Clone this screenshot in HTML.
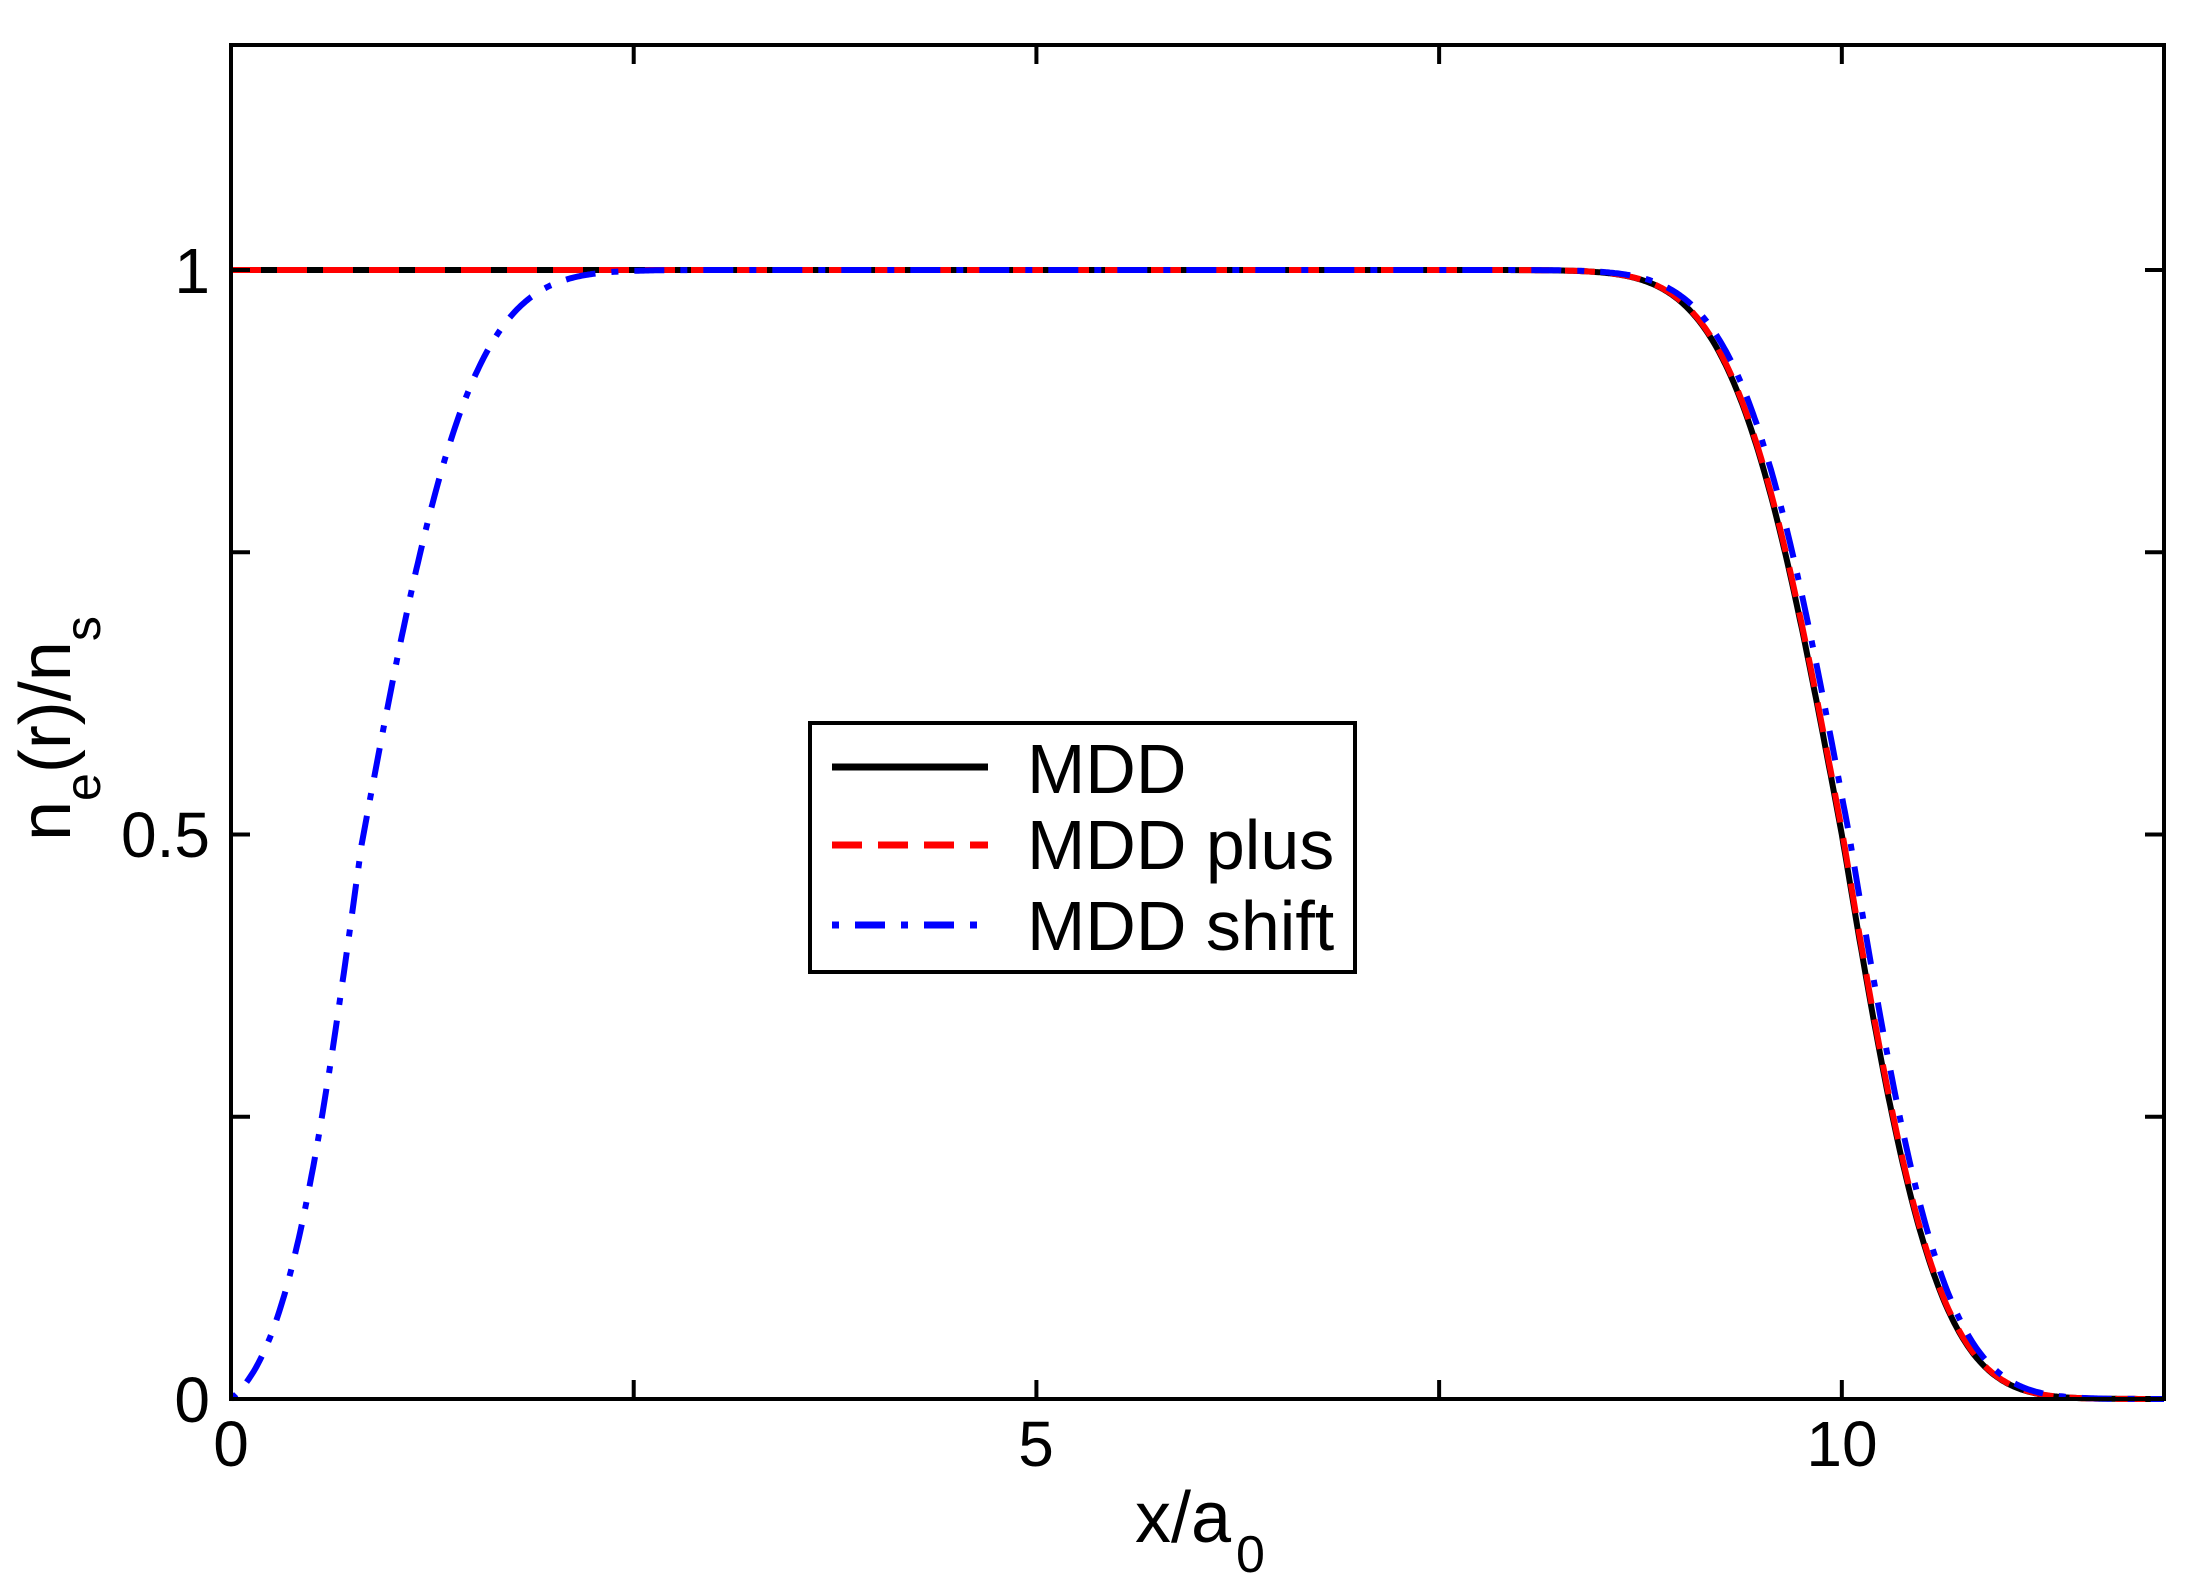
<!DOCTYPE html>
<html><head><meta charset="utf-8"><style>
html,body{margin:0;padding:0;background:#fff;}
svg{display:block;font-family:"Liberation Sans",Arial,sans-serif;}
</style></head><body>
<svg id="s" width="2187" height="1589" viewBox="0 0 2187 1589" xmlns="http://www.w3.org/2000/svg">
<rect width="2187" height="1589" fill="#fff"/>
<g id="curves" fill="none" stroke-width="6" stroke-linejoin="round"></g>
<rect x="231" y="45" width="1933" height="1354" fill="none" stroke="#000" stroke-width="4"/>
<g stroke="#000" stroke-width="4" id="ticks"></g>
<g font-size="64" fill="#000">
<text x="210" y="293" text-anchor="end">1</text>
<text x="210" y="857" text-anchor="end">0.5</text>
<text x="210" y="1422" text-anchor="end">0</text>
<text x="231" y="1466" text-anchor="middle">0</text>
<text x="1036" y="1466" text-anchor="middle">5</text>
<text x="1842" y="1466" text-anchor="middle">10</text>
</g>
<text x="1135" y="1542" font-size="72">x/a</text>
<text x="1236" y="1572" font-size="52">0</text>
<text transform="translate(70,841) rotate(-90)" font-size="72">n<tspan font-size="50" dy="30">e</tspan><tspan dy="-30">(r)/n</tspan><tspan font-size="50" dy="30">s</tspan></text>
<rect x="810" y="723" width="545" height="249" fill="#fff" stroke="#000" stroke-width="4"/>
<line x1="832" y1="767" x2="988" y2="767" stroke="#000" stroke-width="7"/>
<line x1="832" y1="845" x2="988" y2="845" stroke="#f00" stroke-width="7" stroke-dasharray="30,16"/>
<line x1="832" y1="925" x2="988" y2="925" stroke="#00f" stroke-width="7" stroke-dasharray="7,16,30,16"/>
<g font-size="70">
<text x="1027" y="793">MDD</text>
<text x="1027" y="869">MDD plus</text>
<text x="1027" y="950">MDD shift</text>
</g>
</svg>
<script>
(function(){
var X0=231,XS=161.083,Y0=1399,YS=1129;
function erf(x){var s=x<0?-1:1;x=Math.abs(x);var t=1/(1+0.3275911*x);
var y=1-(((((1.061405429*t-1.453152027)*t)+1.421413741)*t-0.284496736)*t+0.254829592)*t*Math.exp(-x*x);return s*y;}
function right(x,sh){var c=10+sh;var s=x<c?0.74:0.66;return 0.5*(1-erf((x-c)/s));}
function left(x){var c=0.81;var s=x<c?0.55:0.75;var v=0.5*(1+erf((x-c)/s));var v0=0.5*(1+erf(-c/0.55));return (v-v0)/(1-v0);}
function path(f){var d="";for(var i=0;i<=1200;i++){var x=i*0.01;var v=f(x);
d+=(i?"L":"M")+(X0+x*XS).toFixed(1)+","+(Y0-v*YS).toFixed(1);}return d;}
var g=document.getElementById("curves"),NS="http://www.w3.org/2000/svg";
function add(d,col,dash){var p=document.createElementNS(NS,"path");p.setAttribute("d",d);p.setAttribute("stroke",col);if(dash)p.setAttribute("stroke-dasharray",dash);g.appendChild(p);}
add(path(function(x){return right(x,0);}),"#000");
add(path(function(x){return right(x,0.005);}),"#f00","30,16");
add(path(function(x){return Math.min(left(x),right(x,0.045));}),"#00f","7,16,30,16");
var t=document.getElementById("ticks"),L=19;
function ln(a,b,c,d){var l=document.createElementNS(NS,"line");l.setAttribute("x1",a);l.setAttribute("y1",b);l.setAttribute("x2",c);l.setAttribute("y2",d);t.appendChild(l);}
for(var k=1;k<5;k++){var x=X0+k*2.5*XS;ln(x,1399,x,1399-L);ln(x,45,x,45+L);}
for(var k=1;k<5;k++){var y=Y0-k*0.25*YS;ln(231,y,231+L,y);ln(2164,y,2164-L,y);}
})();
</script>
</body></html>
